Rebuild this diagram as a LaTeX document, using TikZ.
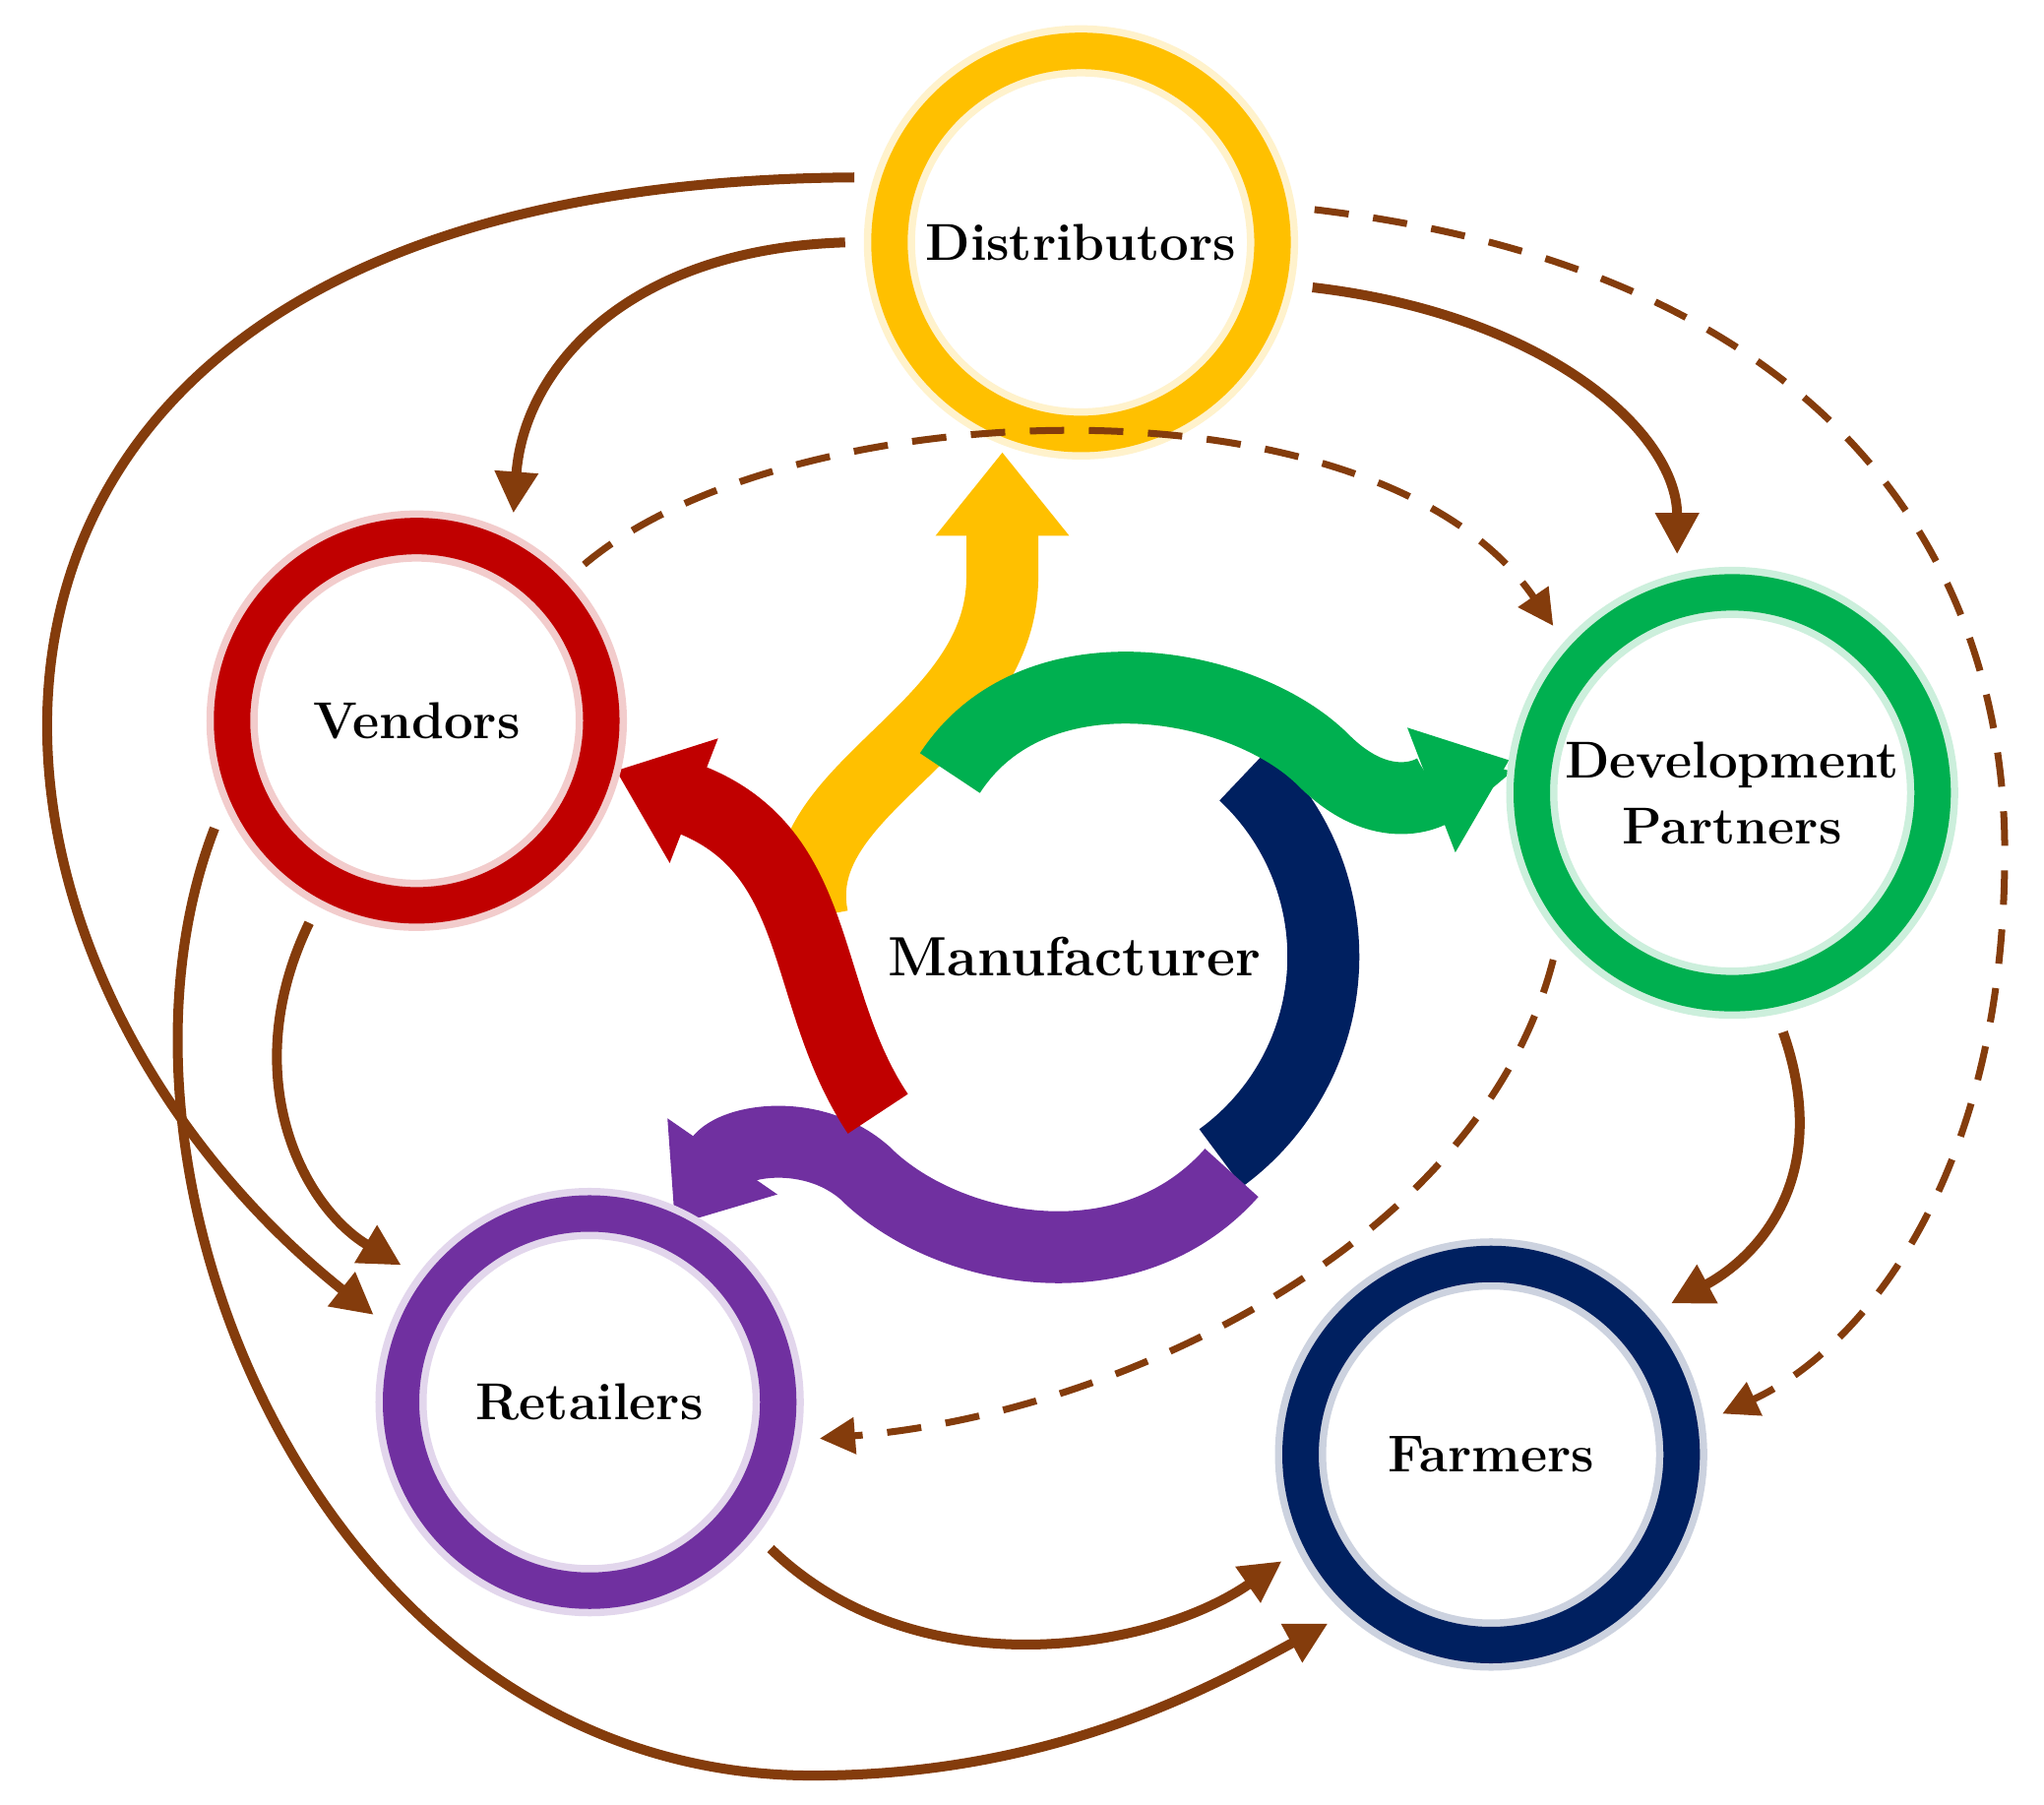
\documentclass[tikz,border=0pt]{standalone}
\usepackage{tikz}
\usetikzlibrary{arrows.meta}
\definecolor{gold}{HTML}{FFC000}
\definecolor{crimson}{HTML}{C00000}
\definecolor{leaf}{HTML}{00B050}
\definecolor{plum}{HTML}{7030A0}
\definecolor{navy}{HTML}{002060}
\definecolor{rust}{HTML}{843C0C}
\tikzset{
  ring/.style={circle, draw=#1, line width=0.37cm, inner sep=0pt, outer sep=0.45cm,
    preaction={draw=#1!20, line width=0.52cm},
    font=\bfseries\fontsize{15}{19}\selectfont, align=center},
  flow/.style={draw=rust, line width=0.1cm, -{Triangle[length=0.42cm,width=0.42cm]}},
  dflow/.style={flow, dashed, line width=0.07cm, dash pattern=on 0.35cm off 0.25cm,
    -{Triangle[length=0.36cm,width=0.36cm]}},
  band/.style={draw=#1, line width=0.73cm, -{Triangle[length=0.85cm,width=1.3cm]}}
}
\begin{document}
\begin{tikzpicture}[x=0.01331cm, y=-0.01331cm]
		\useasboundingbox (0,0) rectangle (1560,1377);
		%----------------------------------------------------
		% Manufacturer and its coloured flows
		%----------------------------------------------------
		\draw [navy, line width=0.73cm] (820,730) ++(-47:190) arc (-47:54:190);
		\draw [band=plum] (940,895) .. controls (860,985) and (720,955) .. (660,895)
			.. controls (620,860) and (560,870) .. (515,935);
		\draw [band=gold] (620,700) .. controls (600,600) and (765,560) .. (765,440) -- (765,345);
		\draw [band=crimson] (670,850) .. controls (610,760) and (630,650) .. (470,588);
		\draw [band=leaf] (725,590) .. controls (790,490) and (950,520) .. (1010,580)
			.. controls (1060,630) and (1100,600) .. (1152,580);
		\node [font=\bfseries\fontsize{16}{19}\selectfont] (man) at (820,730) {Manufacturer};

		%----------------------------------------------------
		% The five partners
		%----------------------------------------------------
		\node [ring=gold, minimum size=3.89cm] (dist) at (825,185) {Distributors};
		\node [ring=crimson, minimum size=3.75cm] (ven) at (318,550) {Vendors};
		\node [ring=leaf, minimum size=4.07cm] (dev) at (1322,605) {Development\\Partners};
		\node [ring=plum, minimum size=3.83cm] (ret) at (450,1070) {Retailers};
		\node [ring=navy, minimum size=3.87cm] (farm) at (1138,1110) {Farmers};
		\coordinate (east) at (1530,650);
		\coordinate (south) at (620,1355);

		%----------------------------------------------------
		% Links between partners
		%----------------------------------------------------
		\draw [flow] (dist.164) .. controls (-110,140) and (-70,720) .. (ret.158);
		\draw [flow] (dist.180) .. controls (480,190) and (400,280) .. (ven.65);
		\draw [flow] (dist.-11) .. controls (1180,240) and (1280,330) .. (dev.103);
		\draw [dflow] (dist.8) .. controls (1420,210) and (1530,450) .. (east)
			.. controls (1530,900) and (1420,1030) .. (farm.10);
		\draw [dflow] (ven.43) .. controls (600,300) and (1050,280) .. (dev.137);
		\draw [dflow] (dev.-137) .. controls (1130,950) and (850,1080) .. (ret.-9);
		\draw [flow] (dev.-78) .. controls (1400,900) and (1340,960) .. (farm.40);
		\draw [flow] (ven.-152) .. controls (60,900) and (250,1355) .. (south)
			.. controls (800,1355) and (920,1290) .. (farm.-134);
		\draw [flow] (ven.-118) .. controls (180,820) and (230,920) .. (ret.144);
		\draw [flow] (ret.-39) .. controls (700,1290) and (880,1260) .. (farm.-153);
	\end{tikzpicture}
\end{document}
